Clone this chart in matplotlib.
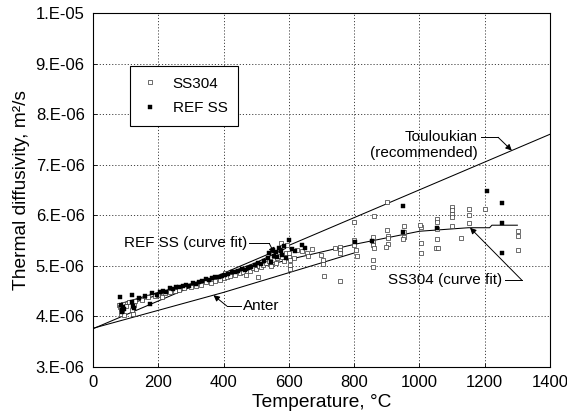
import matplotlib
matplotlib.use("Agg")
import matplotlib.pyplot as plt
import numpy as np
from matplotlib.ticker import MultipleLocator, FuncFormatter

plt.rcParams['font.family'] = ['Liberation Sans', 'DejaVu Sans']

# diffusivities below are in units of 1e-6 m2/s
ss304_T = [80, 82, 85, 87, 90, 92, 95, 100, 110, 120, 122, 125, 130, 150, 170, 190,
           200, 210, 220, 235, 250, 265, 280, 300, 315, 330, 345, 360, 375, 390,
           400, 405, 410, 420, 435, 450, 460, 470, 480, 490, 500, 505, 510, 515,
           520, 530, 540, 545, 550, 555, 560, 565, 570, 575, 580, 585, 590, 595,
           600, 600, 603, 605, 605, 615, 625, 640, 655, 658, 670, 700, 705, 705,
           709, 740, 757, 757, 757, 757, 800, 800, 800, 805, 810, 858, 858, 858,
           860, 858, 858, 860, 900, 900, 903, 903, 905, 898, 953, 953, 953, 950,
           1005, 1002, 1005, 1005, 1055, 1055, 1055, 1055, 1050, 1058, 1101, 1101,
           1101, 1101, 1101, 1126, 1153, 1153, 1153, 1201, 1303, 1303, 1303]
ss304_a = [4.22, 4.18, 4.05, 4.15, 4.10, 4.25, 4.02, 4.20, 4.28, 4.12, 4.05, 4.22,
           4.30, 4.32, 4.38, 4.40, 4.42, 4.38, 4.45, 4.48, 4.50, 4.52, 4.55, 4.58,
           4.60, 4.62, 4.68, 4.65, 4.70, 4.72, 4.75, 4.85, 4.78, 4.80, 4.82, 4.85,
           4.88, 4.82, 4.90, 4.95, 4.93, 4.78, 5.00, 4.97, 5.02, 5.05, 5.10, 5.00,
           5.08, 5.12, 5.05, 5.15, 5.20, 5.45, 5.18, 5.10, 5.25, 5.40, 5.24, 5.17,
           5.11, 5.01, 4.94, 5.15, 5.30, 5.28, 5.24, 5.19, 5.33, 5.21, 5.11, 5.04,
           4.79, 5.35, 5.37, 5.31, 5.24, 4.69, 5.87, 5.50, 5.40, 5.30, 5.20, 5.56,
           5.47, 5.41, 5.34, 5.11, 4.98, 5.98, 6.25, 5.70, 5.59, 5.54, 5.42, 5.37,
           5.79, 5.67, 5.57, 5.53, 5.77, 5.80, 5.44, 5.24, 5.93, 5.87, 5.72, 5.52,
           5.35, 5.35, 6.16, 6.10, 6.03, 5.97, 5.79, 5.54, 6.13, 6.01, 5.84, 6.12,
           5.69, 5.58, 5.31]

refss_T = [82, 85, 88, 90, 92, 95, 118, 120, 122, 125, 140, 160, 175, 180, 195, 205,
           215, 225, 235, 245, 255, 265, 275, 285, 295, 305, 315, 325, 335, 345,
           355, 365, 375, 385, 395, 405, 415, 425, 435, 445, 455, 465, 475, 485,
           495, 505, 515, 525, 535, 540, 545, 550, 555, 560, 565, 570, 575, 580,
           585, 590, 600, 610, 620, 640, 650, 803, 854, 950, 951, 1053, 1206,
           1252, 1252, 1252]
refss_a = [4.38, 4.22, 4.12, 4.08, 4.18, 4.15, 4.42, 4.28, 4.20, 4.17, 4.35, 4.40,
           4.25, 4.45, 4.42, 4.47, 4.50, 4.48, 4.55, 4.53, 4.58, 4.57, 4.60, 4.62,
           4.60, 4.65, 4.63, 4.68, 4.70, 4.73, 4.72, 4.75, 4.78, 4.77, 4.80, 4.82,
           4.84, 4.88, 4.87, 4.90, 4.93, 4.92, 4.96, 4.98, 5.02, 5.05, 5.03, 5.10,
           5.15, 5.25, 5.08, 5.30, 5.20, 5.26, 5.18, 5.35, 5.28, 5.22, 5.38, 5.15,
           5.50, 5.32, 5.28, 5.40, 5.35, 5.47, 5.49, 5.67, 6.18, 5.74, 6.48, 6.24,
           5.85, 5.24]

# reference correlations and fits
toul_T = [0, 1400]
toul_a = [3.75, 7.60]
anter_T = [0, 400, 800]
anter_a = [3.76, 4.47, 5.25]
reffit_T = [80, 200, 300, 400, 500, 590]
reffit_a = [4.24, 4.47, 4.64, 4.82, 5.06, 5.34]
ssfit_T = [80, 200, 400, 600, 800, 1000, 1150, 1215, 1222, 1300]
ssfit_a = [4.18, 4.42, 4.78, 5.12, 5.42, 5.68, 5.75, 5.75, 5.80, 5.80]

E = 1e-6

fig = plt.figure(figsize=(5.67, 4.2), dpi=100)
ax = fig.add_axes([0.164, 0.127, 0.806, 0.842])

ax.plot(ss304_T, np.array(ss304_a) * E, 's', ms=2.3, mfc='white', mec='#333333',
        mew=0.5, ls='none', label='SS304', zorder=3)
ax.plot(refss_T, np.array(refss_a) * E, 's', ms=2.6, mfc='black', mec='black',
        mew=0.3, ls='none', label='REF SS', zorder=4)

lw = 0.75
ax.plot(toul_T, np.array(toul_a) * E, color='black', lw=lw)
ax.plot(anter_T, np.array(anter_a) * E, color='black', lw=lw)
ax.plot(reffit_T, np.array(reffit_a) * E, color='black', lw=lw)
ax.plot(ssfit_T, np.array(ssfit_a) * E, color='black', lw=lw)


def label_line(text, xt, yt, xs, xe, ys, xa, ya, ha='left'):
    # text, a short horizontal stub out to the elbow, then an arrow onto the curve
    ax.text(xt, yt * E, text, ha=ha, va='center', fontsize=11, multialignment='right')
    ax.plot([xs, xe], [ys * E, ys * E], color='black', lw=0.7)
    ax.annotate('', xy=(xa, ya * E), xytext=(xe, ys * E),
                arrowprops=dict(arrowstyle='-|>', color='black', lw=0.7,
                                mutation_scale=9, shrinkA=0, shrinkB=0))


# Touloukian
x_arrow = 1283
label_line('Touloukian\n(recommended)', 1179, 7.39, 1188, 1241, 7.54, x_arrow,
           np.interp(x_arrow, toul_T, toul_a), ha='right')
# REF SS fit
x_arrow = 556
label_line('REF SS (curve fit)', 472, 5.44, 478, 540, 5.44, x_arrow,
           np.interp(x_arrow, reffit_T, reffit_a), ha='right')
# Anter
x_arrow = 369
label_line('Anter', 460, 4.20, 454, 410, 4.20, x_arrow,
           np.interp(x_arrow, anter_T, anter_a), ha='left')
# SS304 fit
x_arrow = 1155
label_line('SS304 (curve fit)', 1253, 4.71, 1262, 1314, 4.71, x_arrow,
           np.interp(x_arrow, ssfit_T, ssfit_a), ha='right')

ax.set_xlim(0, 1400)
ax.set_ylim(3e-6, 1e-5)
ax.xaxis.set_major_locator(MultipleLocator(200))
ax.yaxis.set_major_locator(MultipleLocator(1e-6))


def sci_fmt(v, pos):
    e = int(np.floor(np.log10(v) + 1e-9))
    return f"{v / 10 ** e:.0f}.E{e:+03d}".replace('+', '')


ax.yaxis.set_major_formatter(FuncFormatter(sci_fmt))
ax.tick_params(direction='in', length=3, width=0.6, labelsize=12, pad=6)
ax.grid(True, color='#444444', ls=(0, (1.2, 2)), lw=0.7)
for s in ax.spines.values():
    s.set_linewidth(0.8)

ax.set_xlabel('Temperature, °C', fontsize=13.8, labelpad=3)
ax.set_ylabel('Thermal diffusivity, m²/s', fontsize=13.8, labelpad=4)

leg = ax.legend(loc='upper left', bbox_to_anchor=(0.081, 0.85), fontsize=11,
                frameon=True, fancybox=False, edgecolor='black', framealpha=1,
                markerscale=1.0, handlelength=1.2, borderpad=0.7, borderaxespad=0,
                labelspacing=0.7, handletextpad=0.9)
leg.get_frame().set_linewidth(0.8)

fig.savefig('out.png', dpi=100)
